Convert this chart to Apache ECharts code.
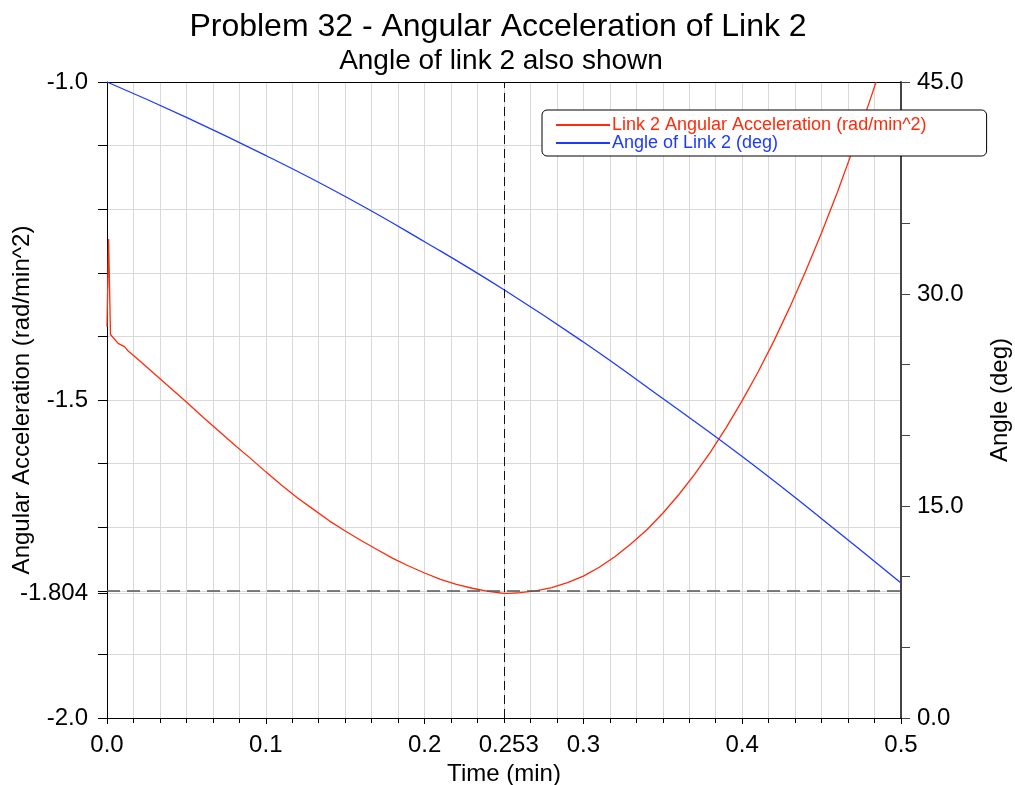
<!DOCTYPE html>
<html>
<head>
<meta charset="utf-8">
<title>Problem 32 - Angular Acceleration of Link 2</title>
<script src="https://cdn.jsdelivr.net/npm/echarts@6/dist/echarts.min.js"></script>
<style>
  html, body { margin: 0; padding: 0; background: #fff; }
  #chart { width: 1015px; height: 785px; }
</style>
</head>
<body>
<div id="chart"></div>
<script>
  // red curve: angular acceleration of link 2 (left axis)
  const accelTime = [0, 0.001, 0.0022, 0.007, 0.011, 0.013, 0.02, 0.03, 0.04, 0.05, 0.06, 0.07, 0.08, 0.09,
    0.10, 0.11, 0.12, 0.13, 0.14, 0.15, 0.16, 0.17, 0.18, 0.19, 0.20, 0.21, 0.22, 0.23, 0.24, 0.25, 0.253,
    0.26, 0.27, 0.28, 0.29, 0.30, 0.31, 0.32, 0.33, 0.34, 0.35, 0.36, 0.37, 0.38, 0.39, 0.40,
    0.41, 0.42, 0.43, 0.44, 0.45, 0.46, 0.47, 0.48, 0.4843];
  const accelValues = [-1.385, -1.247, -1.397, -1.411, -1.416, -1.422, -1.437, -1.459, -1.481, -1.503, -1.526, -1.548, -1.570, -1.591,
    -1.613, -1.634, -1.654, -1.672, -1.690, -1.706, -1.721, -1.735, -1.749, -1.761, -1.772, -1.782, -1.790, -1.796, -1.801, -1.804, -1.804,
    -1.803, -1.800, -1.795, -1.787, -1.777, -1.763, -1.746, -1.726, -1.704, -1.678, -1.649, -1.617, -1.582, -1.543, -1.501,
    -1.456, -1.407, -1.354, -1.297, -1.237, -1.173, -1.104, -1.032, -1.0];

  // blue curve: angle of link 2 (right axis)
  const angleTime = [0, 0.05, 0.10, 0.15, 0.20, 0.25, 0.30, 0.35, 0.40, 0.45, 0.50];
  const angleValues = [45, 42.5, 39.8, 36.9, 33.7, 30.3, 26.6, 22.6, 18.5, 14.1, 9.55];

  // marked minimum
  const minTime = 0.253;
  const minAccel = -1.804;

  // tick labels
  const timeLabels = [0, 0.1, 0.2, 0.253, 0.3, 0.4, 0.5];
  const accelLabels = [-2.0, -1.804, -1.5, -1.0];
  const angleLabels = [0, 15, 30, 45];

  const FONT = '"Liberation Sans", Helvetica, Arial, sans-serif';
  const RED = '#ff2b0a';
  const BLUE = '#1c3bff';
  const GRID = '#d9d9d9';

  const accelTicks = [];
  for (let i = 0; i <= 10; i++) accelTicks.push(-2 + i / 10);
  accelTicks.push(minAccel);

  const pair = (xs, ys) => xs.map((x, i) => [x, ys[i]]);

  const myChart = echarts.init(document.getElementById('chart'));

  const option = {
    animation: false,
    backgroundColor: '#fff',
    title: [
      {
        text: 'Problem 32 - Angular Acceleration of Link 2',
        left: 493, top: 6, textAlign: 'center',
        textStyle: {fontSize: 32, fontWeight: 'normal', color: '#000', fontFamily: FONT}
      },
      {
        text: 'Angle of link 2 also shown',
        left: 496, top: 42, textAlign: 'center',
        textStyle: {fontSize: 28, fontWeight: 'normal', color: '#000', fontFamily: FONT}
      }
    ],
    legend: {
      orient: 'vertical',
      left: 542, top: 110,
      padding: [6, 60, 4, 13],
      itemGap: 0,
      itemWidth: 54,
      itemHeight: 16,
      backgroundColor: '#fff',
      borderColor: '#000',
      borderWidth: 1,
      borderRadius: 5,
      itemStyle: {opacity: 0},
      textStyle: {fontSize: 18, fontFamily: FONT, padding: [0, 0, 0, -3]},
      data: [
        {name: 'Link 2 Angular Acceleration (rad/min^2)', textStyle: {color: RED}},
        {name: 'Angle of Link 2 (deg)', textStyle: {color: BLUE}}
      ]
    },
    grid: {left: 107, right: 114, top: 82, bottom: 67, containLabel: false, outerBoundsMode: 'none'},
    xAxis: [
      {
        type: 'value', min: 0, max: 0.5, interval: 0.1,
        name: 'Time (min)', nameLocation: 'middle', nameGap: 44, nameMoveOverlap: false,
        nameTextStyle: {fontSize: 24, color: '#000', fontFamily: FONT},
        axisLine: {onZero: false, lineStyle: {color: '#000', width: 1}},
        axisTick: {length: 6, lineStyle: {color: '#000'}},
        minorTick: {show: true, splitNumber: 6, length: 5, lineStyle: {color: '#000'}},
        splitLine: {show: true, lineStyle: {color: GRID, width: 1}},
        minorSplitLine: {show: true, lineStyle: {color: GRID, width: 1}},
        axisLabel: {
          customValues: timeLabels, margin: 15,
          fontSize: 24, color: '#000', fontFamily: FONT,
          formatter: v => (Math.abs(v - minTime) < 1e-9 ? '0.253' : v.toFixed(1))
        }
      },
      {
        type: 'value', min: 0, max: 0.5, position: 'top',
        axisLine: {show: true, onZero: false, lineStyle: {color: '#000', width: 1}},
        axisTick: {show: false}, axisLabel: {show: false}, splitLine: {show: false}
      }
    ],
    yAxis: [
      {
        type: 'value', min: -2, max: -1, interval: 0.1,
        name: 'Angular Acceleration (rad/min^2)', nameLocation: 'middle', nameGap: 73, nameMoveOverlap: false,
        nameTextStyle: {fontSize: 24, color: '#000', fontFamily: FONT},
        axisLine: {show: true, onZero: false, lineStyle: {color: '#000', width: 1}},
        axisTick: {show: true, length: 9, customValues: accelTicks, lineStyle: {color: '#000'}},
        splitLine: {show: true, lineStyle: {color: GRID, width: 1}},
        axisLabel: {
          customValues: accelLabels, margin: 19,
          fontSize: 24, color: '#000', fontFamily: FONT,
          formatter: v => (Math.abs(v - minAccel) < 1e-9 ? '-1.804' : v.toFixed(1))
        }
      },
      {
        type: 'value', min: 0, max: 45, interval: 5, position: 'right',
        name: 'Angle (deg)', nameLocation: 'middle', nameGap: 87, nameRotate: 90, nameMoveOverlap: false,
        nameTextStyle: {fontSize: 24, color: '#000', fontFamily: FONT},
        axisLine: {show: true, onZero: false, lineStyle: {color: '#444', width: 2}},
        axisTick: {show: true, length: 9, lineStyle: {color: '#444'}},
        splitLine: {show: false},
        axisLabel: {
          customValues: angleLabels, margin: 16,
          fontSize: 24, color: '#000', fontFamily: FONT,
          formatter: v => v.toFixed(1)
        }
      }
    ],
    series: [
      {
        name: 'Link 2 Angular Acceleration (rad/min^2)',
        type: 'line', xAxisIndex: 0, yAxisIndex: 0,
        data: pair(accelTime, accelValues),
        showSymbol: false, symbol: 'none',
        smooth: false,
        lineStyle: {color: RED, width: 1.3},
        itemStyle: {color: RED},
        z: 3,
        markLine: {
          silent: true, symbol: 'none', label: {show: false},
          data: [
            {xAxis: minTime, lineStyle: {color: '#111', type: [9, 5], width: 1}},
            {yAxis: minAccel, lineStyle: {color: '#555', type: [13, 7], width: 1.5}}
          ]
        }
      },
      {
        name: 'Angle of Link 2 (deg)',
        type: 'line', xAxisIndex: 0, yAxisIndex: 1,
        data: pair(angleTime, angleValues),
        showSymbol: false, symbol: 'none',
        smooth: true,
        lineStyle: {color: BLUE, width: 1.3},
        itemStyle: {color: BLUE},
        z: 3
      }
    ]
  };

  myChart.setOption(option);
</script>
</body>
</html>
